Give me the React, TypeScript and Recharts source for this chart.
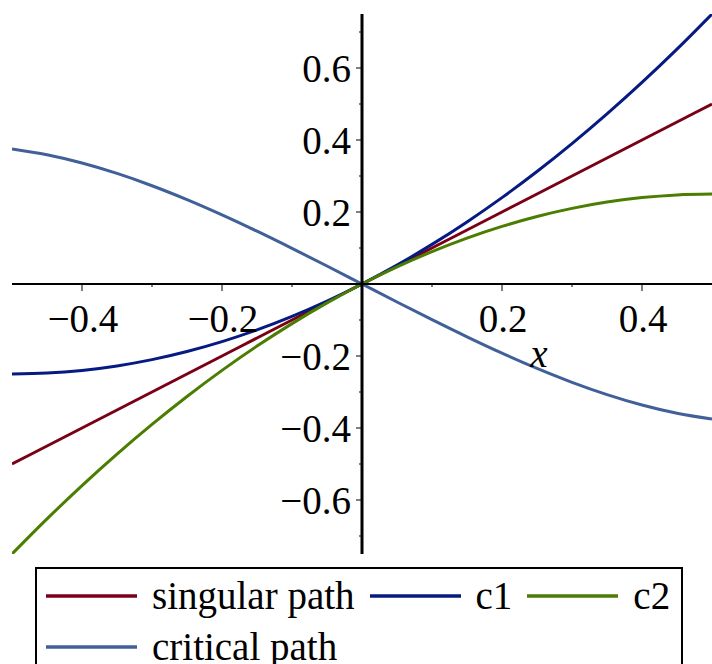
import { LineChart, Line, XAxis, YAxis, ReferenceLine, ReferenceDot, Legend } from 'recharts';

// x samples and the curve values
const xs = [-0.5, -0.45, -0.4, -0.35, -0.3, -0.25, -0.2, -0.15, -0.1, -0.05, 0, 0.05, 0.1, 0.15, 0.2, 0.25, 0.3, 0.35, 0.4, 0.45, 0.5];
const singular = [-0.5, -0.45, -0.4, -0.35, -0.3, -0.25, -0.2, -0.15, -0.1, -0.05, 0, 0.05, 0.1, 0.15, 0.2, 0.25, 0.3, 0.35, 0.4, 0.45, 0.5];
const c1 = [-0.25, -0.2475, -0.24, -0.2275, -0.21, -0.1875, -0.16, -0.1275, -0.09, -0.0475, 0, 0.0525, 0.11, 0.1725, 0.24, 0.3125, 0.39, 0.4725, 0.56, 0.6525, 0.75];
const c2 = [-0.75, -0.6525, -0.56, -0.4725, -0.39, -0.3125, -0.24, -0.1725, -0.11, -0.0525, 0, 0.0475, 0.09, 0.1275, 0.16, 0.1875, 0.21, 0.2275, 0.24, 0.2475, 0.25];
const critical = [0.375, 0.3589, 0.336, 0.3071, 0.273, 0.2344, 0.192, 0.1466, 0.099, 0.0499, 0, -0.0499, -0.099, -0.1466, -0.192, -0.2344, -0.273, -0.3071, -0.336, -0.3589, -0.375];

const xTicks = [-0.4, -0.3, -0.2, -0.1, 0.1, 0.2, 0.3, 0.4];
const xLabels = [-0.4, -0.2, 0.2, 0.4];
const yTicks = [-0.7, -0.6, -0.5, -0.4, -0.3, -0.2, -0.1, 0.1, 0.2, 0.3, 0.4, 0.5, 0.6, 0.7];
const yLabels = [-0.6, -0.4, -0.2, 0.2, 0.4, 0.6];

const data = xs.map((x, i) => ({ x, singular: singular[i], c1: c1[i], c2: c2[i], critical: critical[i] }));

const FONT = "'Liberation Serif', 'Times New Roman', serif";
const FS = 39;

const series = [
  { key: 'singular', name: 'singular path', color: '#7a0016' },
  { key: 'c1', name: 'c1', color: '#061a82' },
  { key: 'c2', name: 'c2', color: '#4a7d00' },
  { key: 'critical', name: 'critical path', color: '#41609a' },
];

const fmt = (v: number) => (v < 0 ? `\u2212${Math.abs(v).toFixed(1)}` : v.toFixed(1));

const isLabel = (list: number[], v: number) => list.some((l) => Math.abs(l - v) < 1e-9);

function LegendBox() {
  return (
    <div
      style={{
        boxSizing: 'border-box',
        width: 648,
        height: 110,
        border: '2.5px solid #000',
        paddingTop: 4,
        paddingLeft: 9,
        display: 'flex',
        flexWrap: 'wrap',
        columnGap: 15,
        fontFamily: FONT,
        fontSize: FS,
        lineHeight: '45px',
        color: '#000',
      }}
    >
      {series.map((s) => (
        <div key={s.key} style={{ display: 'flex', alignItems: 'center', height: 45 }}>
          <svg width={91} height={6} style={{ marginRight: 15 }}>
            <line x1={0} y1={3} x2={91} y2={3} stroke={s.color} strokeWidth={3.5} />
          </svg>
          <span>{s.name}</span>
        </div>
      ))}
    </div>
  );
}

export default function App() {
  return (
    <div style={{ position: 'absolute', left: 0, top: 0, background: '#fff' }}>
      <LineChart width={712} height={664} data={data} margin={{ top: 14, right: 0, left: 12, bottom: 110 }}>
        <XAxis type="number" dataKey="x" domain={[-0.5, 0.5]} hide allowDataOverflow />
        <YAxis type="number" domain={[-0.75, 0.75]} hide allowDataOverflow />
        {series.map((s) => (
          <Line
            key={s.key}
            type="monotone"
            dataKey={s.key}
            name={s.name}
            stroke={s.color}
            strokeWidth={3}
            dot={false}
            isAnimationActive={false}
          />
        ))}
        <ReferenceLine y={0} stroke="#000" strokeWidth={2.2} />
        <ReferenceLine x={0} stroke="#000" strokeWidth={3} />
        {xTicks.map((t) => (
          <ReferenceDot
            key={`xt${t}`}
            x={t}
            y={0}
            r={0}
            shape={(p: any) => {
              const major = isLabel(xLabels, t);
              return (
                <g>
                  <line x1={p.cx} y1={p.cy} x2={p.cx} y2={p.cy + (major ? 7 : 3)} stroke="#000" strokeWidth={1} />
                  {major && (
                    <text x={p.cx + 1} y={p.cy + 48} textAnchor="middle" fontFamily={FONT} fontSize={FS} fill="#000">
                      {fmt(t)}
                    </text>
                  )}
                </g>
              );
            }}
          />
        ))}
        {yTicks.map((t) => (
          <ReferenceDot
            key={`yt${t}`}
            x={0}
            y={t}
            r={0}
            shape={(p: any) => {
              const major = isLabel(yLabels, t);
              return (
                <g>
                  <line x1={p.cx} y1={p.cy} x2={p.cx - (major ? 6 : 3)} y2={p.cy} stroke="#000" strokeWidth={1} />
                  {major && (
                    <text x={p.cx - 11} y={p.cy + 14} textAnchor="end" fontFamily={FONT} fontSize={FS} fill="#000">
                      {fmt(t)}
                    </text>
                  )}
                </g>
              );
            }}
          />
        ))}
        <ReferenceDot
          x={0.25}
          y={0}
          r={0}
          shape={(p: any) => (
            <text x={p.cx + 2} y={p.cy + 83} textAnchor="middle" fontFamily={FONT} fontStyle="italic" fontSize={FS} fill="#000">
              x
            </text>
          )}
        />
        <Legend
          verticalAlign="middle"
          align="center"
          layout="horizontal"
          content={() => <LegendBox />}
          wrapperStyle={{ left: 35, top: 567, width: 648, height: 110 }}
        />
      </LineChart>
    </div>
  );
}
